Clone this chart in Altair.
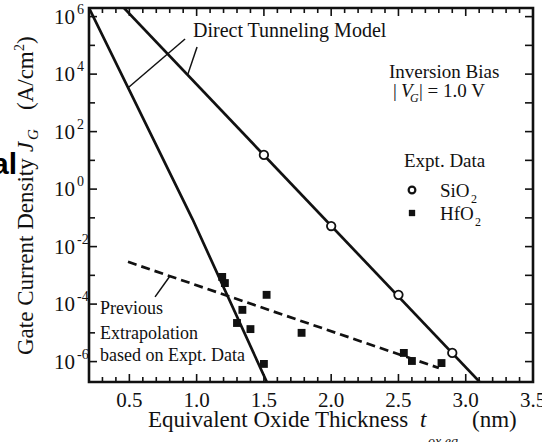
import altair as alt
import numpy as np
import pandas as pd

FONT = "Liberation Serif"
INK = "#111111"

# ---- measured data -------------------------------------------------------
# SiO2 gate leakage (open circles)
sio2_t = [1.5, 2.0, 2.5, 2.9]
sio2_j = [15.5, 0.052, 2.1e-4, 2.0e-6]

# HfO2 gate leakage (filled squares)
hfo2_t = [1.19, 1.21, 1.52, 1.34, 1.30, 1.40, 1.50, 1.78, 2.54, 2.60, 2.82]
hfo2_j = [8.8e-4, 5.4e-4, 2.1e-4, 6.3e-5, 2.2e-5, 1.35e-5, 8.3e-7, 1.0e-5,
          2.0e-6, 1.05e-6, 8.9e-7]

# ---- model curves ----------------------------------------------------------
# direct tunneling model, SiO2
model_sio2_t = [0.44, 3.14]
model_sio2_j = [2.5e6, 1.3e-7]
# direct tunneling model, HfO2
model_hfo2_t = [0.19, 0.97, 1.53]
model_hfo2_j = [2.5e6, 8.9e-2, 1.6e-7]
# previous extrapolation based on experimental data (dashed)
extrap_t = [0.49, 2.80]
extrap_j = [2.95e-3, 6.0e-7]

# leader lines from the annotations to the curves
leader_seg = ["a", "a", "b", "b", "c", "c"]
leader_t = [0.914, 0.495, 1.003, 0.935, 0.691, 0.802]
leader_j = [1.66e5, 3.5e3, 8.7e4, 1.0e4, 1.78e-4, 9.5e-4]

# ---- axes -----------------------------------------------------------------
x_major = [0.5, 1.0, 1.5, 2.0, 2.5, 3.0, 3.5]
x_labels = ["0.5", "1.0", "1.5", "2.0", "2.5", "3.0", "3.5"]
x_minor = [v for v in np.round(np.arange(0.2, 3.501, 0.1), 1) if round(v * 10) % 5 != 0]
decades_even = [-6, -4, -2, 0, 2, 4, 6]
decades_odd = [-5, -3, -1, 1, 3, 5]

W, H = 444, 374

xscale = alt.Scale(domain=[0.2, 3.5], nice=False, zero=False)
yscale = alt.Scale(type="log", domain=[10 ** -6.71, 10 ** 6.3], nice=False)

X = alt.X("x:Q", scale=xscale, axis=None)
Y = alt.Y("J:Q", scale=yscale, axis=None)

df_sio2 = pd.DataFrame({"x": sio2_t, "J": sio2_j})
df_hfo2 = pd.DataFrame({"x": hfo2_t, "J": hfo2_j})
df_model = pd.concat([
    pd.DataFrame({"x": model_sio2_t, "J": model_sio2_j, "curve": "SiO2"}),
    pd.DataFrame({"x": model_hfo2_t, "J": model_hfo2_j, "curve": "HfO2"}),
])
df_extrap = pd.DataFrame({"x": extrap_t, "J": extrap_j})
df_leader = pd.DataFrame({"x": leader_t, "J": leader_j, "seg": leader_seg})

layers = []

# model curves
layers.append(alt.Chart(df_model).mark_line(clip=True, color=INK, strokeWidth=2.7)
              .encode(x=X, y=Y, detail="curve:N"))
# dashed extrapolation
layers.append(alt.Chart(df_extrap).mark_line(clip=True, color=INK, strokeWidth=2.7,
                                             strokeDash=[9, 5])
              .encode(x=X, y=Y))
# leader lines
layers.append(alt.Chart(df_leader).mark_line(color=INK, strokeWidth=1.5)
              .encode(x=X, y=Y, detail="seg:N"))

# measured points
layers.append(alt.Chart(df_sio2).mark_point(shape="circle", filled=True, fill="white",
                                            stroke=INK, strokeWidth=1.8, size=72, opacity=1)
              .encode(x=X, y=Y))
layers.append(alt.Chart(df_hfo2).mark_square(size=62, color=INK, opacity=1)
              .encode(x=X, y=Y))


# inward ticks on all four sides
def xticks(vals, y0, y1):
    return (alt.Chart(pd.DataFrame({"x": vals})).mark_rule(color=INK, strokeWidth=1.6)
            .encode(x=X, y=alt.value(y0), y2=alt.value(y1)))


def yticks(exps, x0, x1):
    return (alt.Chart(pd.DataFrame({"J": [10.0 ** e for e in exps]}))
            .mark_rule(color=INK, strokeWidth=1.6)
            .encode(y=Y, x=alt.value(x0), x2=alt.value(x1)))


layers += [
    xticks(x_major, H, H - 8), xticks(x_minor, H, H - 5),
    xticks(x_major, 0, 8), xticks(x_minor, 0, 5),
    yticks(decades_even, 0, 8), yticks(decades_odd, 0, 6),
    yticks(decades_even + decades_odd, W, W - 8),
]

# tick labels: thickness along the bottom
df_xl = pd.DataFrame({"x": x_major, "lab": x_labels})
layers.append(alt.Chart(df_xl).mark_text(font=FONT, fontSize=21, color=INK, align="center",
                                         baseline="alphabetic")
              .encode(x=X, y=alt.value(H + 25), text="lab:N"))

# tick labels: powers of ten on the left
df_yl = pd.DataFrame({"J": [10.0 ** e for e in decades_even],
                      "base": ["10"] * len(decades_even),
                      "e": [str(e) for e in decades_even]})
layers.append(alt.Chart(df_yl).mark_text(font=FONT, fontSize=21, color=INK, align="right",
                                         baseline="middle", dy=1)
              .encode(y=Y, x=alt.value(-14), text="base:N"))
layers.append(alt.Chart(df_yl).mark_text(font=FONT, fontSize=14, color=INK, align="left",
                                         baseline="middle", dy=-7)
              .encode(y=Y, x=alt.value(-12), text="e:N"))


# text pieces placed in plot-area pixel coordinates
def texts(rows, **style):
    df = pd.DataFrame(rows, columns=["s", "px", "py", "fs"])
    return (alt.Chart(df).mark_text(font=FONT, color=INK, align="left",
                                    baseline="alphabetic", **style)
            .encode(x=alt.X("px:Q", scale=None, axis=None),
                    y=alt.Y("py:Q", scale=None, axis=None),
                    size=alt.Size("fs:Q", scale=None, legend=None),
                    text="s:N"))


roman = [
    ("Direct Tunneling Model", 104, 29, 20),
    ("Inversion Bias", 300, 70, 19),
    ("|", 304, 89, 19),
    ("| = 1.0 V", 330, 89, 19),
    ("Expt. Data", 315, 159, 19),
    ("SiO", 351, 189, 19), ("2", 382, 195, 12),
    ("HfO", 351, 212, 19), ("2", 386, 218, 12),
    ("Previous", 11, 306, 18),
    ("Extrapolation", 11, 331, 18),
    ("based on Expt. Data", 11, 353, 18),
    ("Equivalent Oxide Thickness", 59, 419, 23),
    ("(nm)", 383, 419, 23),
]
italic = [
    ("V", 312, 89, 19), ("G", 321, 94, 12),
    ("t", 331, 419, 23), ("ox,eq", 339, 438, 14),
]
rot_roman = [
    ("Gate Current Density", -56, 347, 23),
    ("(A/cm", -56, 102, 23),
    ("2", -65, 43, 14),
    (")", -56, 36, 23),
]
rot_italic = [
    ("J", -56, 144, 23),
    ("G", -51, 132, 15),
]
layers += [
    texts(roman),
    texts(italic, fontStyle="italic"),
    texts(rot_roman, angle=270),
    texts(rot_italic, angle=270, fontStyle="italic"),
]

# legend for the measured series
layers.append(alt.Chart(pd.DataFrame({"k": [0]})).mark_point(
    shape="circle", filled=True, fill="white", stroke=INK, strokeWidth=2.2, size=45, opacity=1)
    .encode(x=alt.value(323), y=alt.value(182)))
layers.append(alt.Chart(pd.DataFrame({"k": [0]})).mark_square(size=40, color=INK, opacity=1)
              .encode(x=alt.value(323), y=alt.value(205)))

# partial heading at the left edge
layers.append(alt.Chart(pd.DataFrame({"s": ["al"]})).mark_text(
    font="Liberation Sans", fontWeight="bold", fontSize=30, color="#000000",
    align="right", baseline="alphabetic")
    .encode(x=alt.value(-72), y=alt.value(166), text="s:N"))

chart = (alt.layer(*layers)
         .properties(width=W, height=H, autosize="none",
                     padding={"left": 89, "top": 8, "right": 9, "bottom": 60},
                     background="white")
         .configure_view(stroke=INK, strokeWidth=2.6))

chart.save("out.html", embed_options={"renderer": "svg", "actions": False})
